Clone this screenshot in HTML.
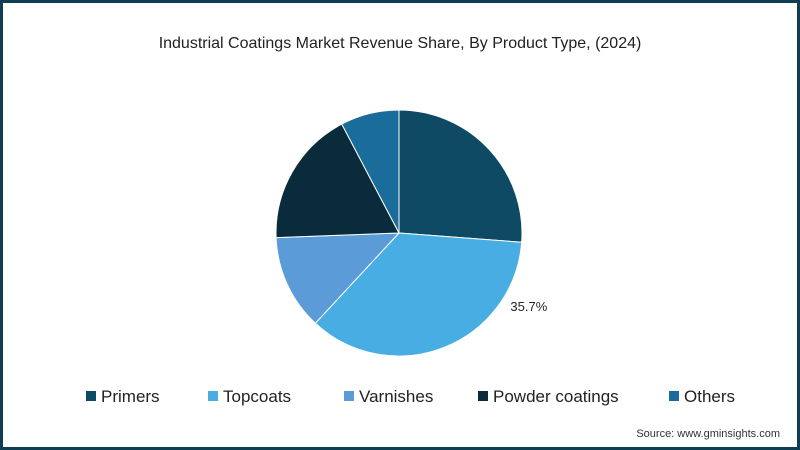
<!DOCTYPE html>
<html><head><meta charset="utf-8"><style>
html,body{margin:0;padding:0;}
body{width:800px;height:450px;overflow:hidden;font-family:"Liberation Sans",sans-serif;background:#fff;}
#frame{position:absolute;left:0;top:0;width:794px;height:444px;border:3px solid #0f3d52;}
</style></head><body>
<div id="frame"></div>
<svg id="chart" width="800" height="450" style="position:absolute;left:0;top:0">
<text x="400" y="48" text-anchor="middle" font-size="16" fill="#222">Industrial Coatings Market Revenue Share, By Product Type, (2024)</text>
<g id="slices"></g>
<g id="legend"></g>
<text x="780" y="437" text-anchor="end" font-size="11" fill="#333">Source: www.gminsights.com</text>
</svg>
<script>
const categories=["Primers","Topcoats","Varnishes","Powder coatings","Others"];
const values=[26.2,35.7,12.5,17.9,7.7];
const labels=["","35.7%","","",""];
const colors=["#0e4a63","#47ade2","#5b9bd8","#0a2b3b","#1a6c9b"];
const legendX=[91,213,349,483,674];
const cx=399,cy=233,r=123;
const NS="http://www.w3.org/2000/svg";
const g=document.getElementById('slices');
const total=values.reduce((a,b)=>a+b,0);
let acc=0;
function pt(a,rr){return [cx+rr*Math.sin(a),cy-rr*Math.cos(a)];}
values.forEach((v,i)=>{
  const a0=acc/total*2*Math.PI; acc+=v; const a1=acc/total*2*Math.PI;
  const p0=pt(a0,r),p1=pt(a1,r);
  const p=document.createElementNS(NS,'path');
  p.setAttribute('d',`M${cx},${cy}L${p0[0]},${p0[1]}A${r},${r} 0 ${a1-a0>Math.PI?1:0} 1 ${p1[0]},${p1[1]}Z`);
  p.setAttribute('fill',colors[i]);p.setAttribute('stroke','#fff');p.setAttribute('stroke-width','1');
  
  
  g.appendChild(p);
  if(labels[i]){
    const m=a0+(a1-a0)*0.25; const lp=pt(m,r+18);
    const t=document.createElementNS(NS,'text');
    t.setAttribute('x',lp[0]-2);t.setAttribute('y',lp[1]-6);
    t.setAttribute('font-size','13');t.setAttribute('fill','#222');
    t.textContent=labels[i];
    
    
    g.appendChild(t);
  }
});
const lg=document.getElementById('legend');
categories.forEach((c,i)=>{
  const rc=document.createElementNS(NS,'rect');
  rc.setAttribute('x',legendX[i]-5);rc.setAttribute('y',391);rc.setAttribute('width',10);rc.setAttribute('height',10);
  rc.setAttribute('fill',colors[i]);
  
  
  lg.appendChild(rc);
  const t=document.createElementNS(NS,'text');
  t.setAttribute('x',legendX[i]+10);t.setAttribute('y',402);t.setAttribute('font-size','17');t.setAttribute('fill','#222');
  t.textContent=c;
  
  
  lg.appendChild(t);
});
</script>
</body></html>
